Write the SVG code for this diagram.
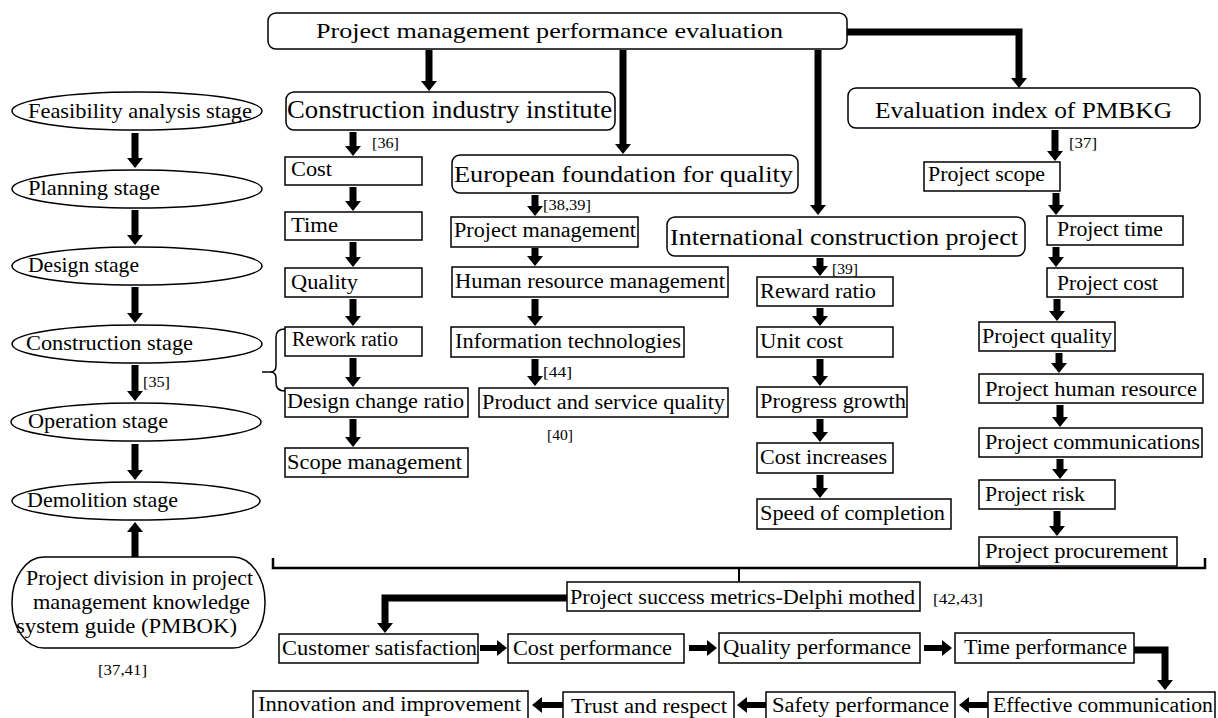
<svg xmlns="http://www.w3.org/2000/svg" width="1218" height="718" viewBox="0 0 1218 718">
<style>
.bx{fill:#fff;stroke:#000;stroke-width:1.5}
.t{font-family:"Liberation Serif",serif;font-size:20px;fill:#000}
.h{font-family:"Liberation Serif",serif;font-size:24px;fill:#000}
.c{font-family:"Liberation Serif",serif;font-size:14px;fill:#000}
.a{stroke:#000;stroke-width:7;fill:none;marker-end:url(#ah)}
.ah2{stroke:#000;stroke-width:6;fill:none;marker-end:url(#ah)}
.ln{stroke:#000;fill:none}
</style>
<defs>
<marker id="ah" markerUnits="userSpaceOnUse" viewBox="0 0 10 16" markerWidth="10" markerHeight="16" refX="1" refY="8" orient="auto">
<path d="M0,0 L10,8 L0,16 z" fill="#000"/>
</marker>
</defs>
<rect width="1218" height="718" fill="#fff"/>

<g id="connectors">
<line class="a" x1="135" y1="133" x2="135" y2="159"/>
<line class="a" x1="135" y1="210" x2="135" y2="236"/>
<line class="a" x1="135" y1="287" x2="135" y2="314"/>
<line class="a" x1="135" y1="365" x2="135" y2="392"/>
<line class="a" x1="135" y1="444" x2="135" y2="471"/>
<line class="a" x1="135" y1="557" x2="135" y2="531"/>
<line class="a" x1="353" y1="132" x2="353" y2="147"/>
<line class="a" x1="353" y1="187" x2="353" y2="202"/>
<line class="a" x1="353" y1="242" x2="353" y2="258"/>
<line class="a" x1="353" y1="299" x2="353" y2="317"/>
<line class="a" x1="353" y1="358" x2="353" y2="378"/>
<line class="a" x1="353" y1="419" x2="353" y2="438"/>
<line class="a" x1="429" y1="50" x2="429" y2="82"/>
<line class="a" x1="623" y1="50" x2="623" y2="145"/>
<line class="a" x1="818" y1="50" x2="818" y2="206"/>
<line class="a" x1="535" y1="195" x2="535" y2="207"/>
<line class="a" x1="535" y1="248" x2="535" y2="257"/>
<line class="a" x1="535" y1="299" x2="535" y2="317"/>
<line class="a" x1="535" y1="359" x2="535" y2="377"/>
<line class="a" x1="820" y1="258" x2="820" y2="267"/>
<line class="a" x1="820" y1="308" x2="820" y2="317"/>
<line class="a" x1="820" y1="359" x2="820" y2="377"/>
<line class="a" x1="820" y1="419" x2="820" y2="433"/>
<line class="a" x1="820" y1="475" x2="820" y2="489"/>
<line class="a" x1="1055" y1="130" x2="1055" y2="152"/>
<line class="a" x1="1056" y1="193" x2="1056" y2="206"/>
<line class="a" x1="1056" y1="247" x2="1056" y2="258"/>
<line class="a" x1="1057" y1="299" x2="1057" y2="312"/>
<line class="a" x1="1059" y1="353" x2="1059" y2="364"/>
<line class="a" x1="1060" y1="405" x2="1060" y2="418"/>
<line class="a" x1="1060" y1="459" x2="1060" y2="470"/>
<line class="a" x1="1057" y1="511" x2="1057" y2="527"/>
<path class="a" d="M847,32 H1019 V79"/>
<path class="a" d="M567,598 H385 V624"/>
<path class="a" d="M1134,650 H1165 V681"/>
<line class="ah2" x1="480" y1="648" x2="498" y2="648"/>
<line class="ah2" x1="689" y1="648" x2="708" y2="648"/>
<line class="ah2" x1="924" y1="648" x2="943" y2="648"/>
<line class="ah2" x1="988" y1="705" x2="968" y2="705"/>
<line class="ah2" x1="766" y1="705" x2="746" y2="705"/>
<line class="ah2" x1="563" y1="705" x2="541" y2="705"/>
<path class="ln" stroke-width="2.5" d="M273,558 V568 H1205 V558"/>
<line class="ln" stroke-width="2" x1="739" y1="568" x2="739" y2="582"/>
<path class="ln" stroke-width="1.5" d="M285,329 Q276,329 276,337 V366 Q276,372 270,372 H262 M270,372 Q276,372 276,378 V383 Q276,391 285,391"/>
</g>

<g id="top"><rect class="bx" x="268" y="13" width="579" height="36" rx="8"/><text class="h" style="font-size:22px" x="316" y="38" textLength="467" lengthAdjust="spacingAndGlyphs">Project management performance evaluation</text></g>
<g id="cii"><rect class="bx" x="286" y="92" width="329" height="38" rx="8"/><text class="h" style="font-size:25px" x="287" y="118" textLength="325" lengthAdjust="spacingAndGlyphs">Construction industry institute</text></g>
<g id="efq"><rect class="bx" x="452" y="155" width="346" height="38" rx="8"/><text class="h" x="454" y="182" textLength="339" lengthAdjust="spacingAndGlyphs">European foundation for quality</text></g>
<g id="icp"><rect class="bx" x="667" y="217" width="358" height="39" rx="8"/><text class="h" x="670" y="245" textLength="348" lengthAdjust="spacingAndGlyphs">International construction project</text></g>
<g id="pmbkg"><rect class="bx" x="848" y="88" width="352" height="40" rx="8"/><text class="h" style="font-size:23px" x="875" y="118" textLength="297" lengthAdjust="spacingAndGlyphs">Evaluation index of PMBKG</text></g>

<g id="feasibility"><ellipse class="bx" cx="137" cy="111" rx="125" ry="19"/><text class="t" style="font-size:21px" x="28" y="118" textLength="224" lengthAdjust="spacingAndGlyphs">Feasibility analysis stage</text></g>
<g id="planning"><ellipse class="bx" cx="137" cy="189" rx="125" ry="19"/><text class="t" style="font-size:21px" x="28" y="195" textLength="132" lengthAdjust="spacingAndGlyphs">Planning stage</text></g>
<g id="design"><ellipse class="bx" cx="137" cy="266" rx="125" ry="19"/><text class="t" style="font-size:21px" x="28" y="272" textLength="111" lengthAdjust="spacingAndGlyphs">Design stage</text></g>
<g id="construction"><ellipse class="bx" cx="137" cy="344" rx="125" ry="19"/><text class="t" style="font-size:21px" x="26" y="350" textLength="167" lengthAdjust="spacingAndGlyphs">Construction stage</text></g>
<g id="operation"><ellipse class="bx" cx="136" cy="422" rx="125" ry="19"/><text class="t" style="font-size:21px" x="28" y="428" textLength="140" lengthAdjust="spacingAndGlyphs">Operation stage</text></g>
<g id="demolition"><ellipse class="bx" cx="136" cy="501" rx="124" ry="19"/><text class="t" style="font-size:21px" x="27" y="507" textLength="151" lengthAdjust="spacingAndGlyphs">Demolition stage</text></g>
<g id="pmbok"><rect class="bx" x="12" y="557" width="253" height="91" rx="32" ry="45"/>
<text class="t" style="font-size:21px" x="26" y="585" textLength="227" lengthAdjust="spacingAndGlyphs">Project division in project</text>
<text class="t" style="font-size:21px" x="33" y="609" textLength="217" lengthAdjust="spacingAndGlyphs">management  knowledge</text>
<text class="t" style="font-size:21px" x="16" y="633" textLength="221" lengthAdjust="spacingAndGlyphs">system guide (PMBOK)</text></g>

<g id="cost"><rect class="bx" x="285" y="157" width="137" height="28"/><text class="t" x="291" y="176" textLength="41" lengthAdjust="spacingAndGlyphs">Cost</text></g>
<g id="time"><rect class="bx" x="285" y="212" width="137" height="28"/><text class="t" x="291" y="232" textLength="47" lengthAdjust="spacingAndGlyphs">Time</text></g>
<g id="quality"><rect class="bx" x="285" y="268" width="137" height="29"/><text class="t" x="291" y="289" textLength="67" lengthAdjust="spacingAndGlyphs">Quality</text></g>
<g id="rework"><rect class="bx" x="285" y="327" width="137" height="29"/><text class="t" x="292" y="346" textLength="106" lengthAdjust="spacingAndGlyphs">Rework ratio</text></g>
<g id="designchange"><rect class="bx" x="285" y="388" width="183" height="29"/><text class="t" x="287" y="408" textLength="177" lengthAdjust="spacingAndGlyphs">Design change ratio</text></g>
<g id="scope"><rect class="bx" x="285" y="448" width="183" height="29"/><text class="t" x="287" y="469" textLength="175" lengthAdjust="spacingAndGlyphs">Scope management</text></g>

<g id="pm"><rect class="bx" x="451" y="217" width="187" height="30"/><text class="t" x="454" y="237" textLength="182" lengthAdjust="spacingAndGlyphs">Project management</text></g>
<g id="hrm"><rect class="bx" x="452" y="267" width="276" height="30"/><text class="t" x="455" y="288" textLength="270" lengthAdjust="spacingAndGlyphs">Human resource management</text></g>
<g id="it"><rect class="bx" x="451" y="327" width="233" height="30"/><text class="t" x="455" y="348" textLength="226" lengthAdjust="spacingAndGlyphs">Information technologies</text></g>
<g id="psq"><rect class="bx" x="479" y="388" width="249" height="29"/><text class="t" x="482" y="409" textLength="243" lengthAdjust="spacingAndGlyphs">Product and service quality</text></g>

<g id="reward"><rect class="bx" x="757" y="277" width="136" height="29"/><text class="t" x="760" y="298" textLength="116" lengthAdjust="spacingAndGlyphs">Reward ratio</text></g>
<g id="unitcost"><rect class="bx" x="757" y="327" width="136" height="30"/><text class="t" x="760" y="348" textLength="83" lengthAdjust="spacingAndGlyphs">Unit cost</text></g>
<g id="progress"><rect class="bx" x="757" y="387" width="150" height="30"/><text class="t" x="760" y="408" textLength="146" lengthAdjust="spacingAndGlyphs">Progress growth</text></g>
<g id="costinc"><rect class="bx" x="757" y="443" width="136" height="30"/><text class="t" x="760" y="464" textLength="127" lengthAdjust="spacingAndGlyphs">Cost increases</text></g>
<g id="speed"><rect class="bx" x="757" y="499" width="194" height="30"/><text class="t" x="760" y="520" textLength="185" lengthAdjust="spacingAndGlyphs">Speed of completion</text></g>

<g id="pscope"><rect class="bx" x="924" y="162" width="136" height="29"/><text class="t" x="928" y="181" textLength="117" lengthAdjust="spacingAndGlyphs">Project scope</text></g>
<g id="ptime"><rect class="bx" x="1047" y="216" width="136" height="29"/><text class="t" x="1057" y="236" textLength="106" lengthAdjust="spacingAndGlyphs">Project time</text></g>
<g id="pcost"><rect class="bx" x="1047" y="268" width="136" height="29"/><text class="t" x="1057" y="290" textLength="101" lengthAdjust="spacingAndGlyphs">Project cost</text></g>
<g id="pquality"><rect class="bx" x="979" y="322" width="136" height="29"/><text class="t" x="982" y="343" textLength="130" lengthAdjust="spacingAndGlyphs">Project quality</text></g>
<g id="phr"><rect class="bx" x="979" y="374" width="224" height="29"/><text class="t" x="985" y="396" textLength="212" lengthAdjust="spacingAndGlyphs">Project human resource</text></g>
<g id="pcomm"><rect class="bx" x="979" y="428" width="223" height="29"/><text class="t" x="985" y="449" textLength="215" lengthAdjust="spacingAndGlyphs">Project communications</text></g>
<g id="prisk"><rect class="bx" x="979" y="480" width="136" height="29"/><text class="t" x="985" y="501" textLength="100" lengthAdjust="spacingAndGlyphs">Project risk</text></g>
<g id="pproc"><rect class="bx" x="979" y="537" width="198" height="29"/><text class="t" x="985" y="558" textLength="183" lengthAdjust="spacingAndGlyphs">Project procurement</text></g>

<g id="psm"><rect class="bx" x="567" y="582" width="353" height="29"/><text class="t" x="570" y="604" textLength="345" lengthAdjust="spacingAndGlyphs">Project success metrics-Delphi mothed</text></g>
<g id="cust"><rect class="bx" x="279" y="634" width="199" height="29"/><text class="t" x="282" y="655" textLength="195" lengthAdjust="spacingAndGlyphs">Customer satisfaction</text></g>
<g id="costperf"><rect class="bx" x="508" y="634" width="176" height="29"/><text class="t" x="513" y="655" textLength="159" lengthAdjust="spacingAndGlyphs">Cost performance</text></g>
<g id="qualperf"><rect class="bx" x="719" y="633" width="201" height="30"/><text class="t" x="723" y="654" textLength="188" lengthAdjust="spacingAndGlyphs">Quality performance</text></g>
<g id="timeperf"><rect class="bx" x="955" y="633" width="179" height="30"/><text class="t" x="964" y="654" textLength="163" lengthAdjust="spacingAndGlyphs">Time performance</text></g>
<g id="effcomm"><rect class="bx" x="988" y="692" width="227" height="30"/><text class="t" x="993" y="712" textLength="220" lengthAdjust="spacingAndGlyphs">Effective communication</text></g>
<g id="safety"><rect class="bx" x="766" y="692" width="189" height="30"/><text class="t" x="772" y="712" textLength="177" lengthAdjust="spacingAndGlyphs">Safety performance</text></g>
<g id="trust"><rect class="bx" x="563" y="692" width="171" height="30"/><text class="t" x="571" y="713" textLength="156" lengthAdjust="spacingAndGlyphs">Trust and respect</text></g>
<g id="innov"><rect class="bx" x="253" y="691" width="275" height="30"/><text class="t" x="258" y="711" textLength="263" lengthAdjust="spacingAndGlyphs">Innovation and improvement</text></g>

<g id="citations">
<text class="c" x="372" y="148" textLength="27" lengthAdjust="spacingAndGlyphs">[36]</text>
<text class="c" x="543" y="210" textLength="48" lengthAdjust="spacingAndGlyphs">[38,39]</text>
<text class="c" x="1069" y="148" textLength="28" lengthAdjust="spacingAndGlyphs">[37]</text>
<text class="c" x="832" y="274" textLength="26" lengthAdjust="spacingAndGlyphs">[39]</text>
<text class="c" x="543" y="377" textLength="29" lengthAdjust="spacingAndGlyphs">[44]</text>
<text class="c" x="547" y="440" textLength="26" lengthAdjust="spacingAndGlyphs">[40]</text>
<text class="c" x="143" y="387" textLength="27" lengthAdjust="spacingAndGlyphs">[35]</text>
<text class="c" x="98" y="675" textLength="49" lengthAdjust="spacingAndGlyphs">[37,41]</text>
<text class="c" x="933" y="604" textLength="50" lengthAdjust="spacingAndGlyphs">[42,43]</text>
</g>
</svg>
